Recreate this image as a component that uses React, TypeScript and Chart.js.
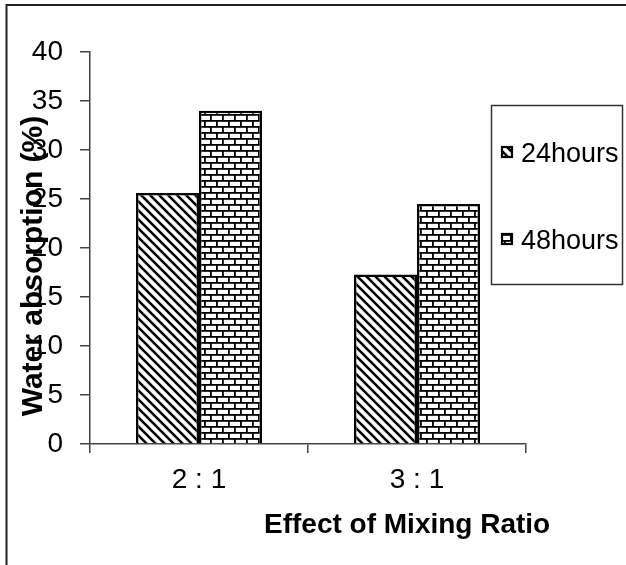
import React, { useEffect, useRef } from 'react';
import { Chart, registerables } from 'chart.js';

Chart.register(...registerables);

const categories = ['2 : 1', '3 : 1'];
const seriesLabels = ['24hours', '48hours'];
const values24 = [25.6, 17.3];
const values48 = [34.0, 24.5];
const yMin = 0;
const yMax = 40;
const yStep = 5;
const xTitle = 'Effect of Mixing Ratio';
const yTitle = 'Water absorption (%)';

const FONT = '"Liberation Sans", Arial, sans-serif';

function makeHatch(): CanvasPattern {
  const n = 9;
  const c = document.createElement('canvas');
  c.width = n;
  c.height = n;
  const g = c.getContext('2d')!;
  g.fillStyle = '#fff';
  g.fillRect(0, 0, n, n);
  g.strokeStyle = '#000';
  g.lineWidth = 2.6;
  g.beginPath();
  g.moveTo(-2, -2);
  g.lineTo(n + 2, n + 2);
  g.moveTo(-2, n - 2);
  g.lineTo(2, n + 2);
  g.moveTo(n - 2, -2);
  g.lineTo(n + 2, 2);
  g.stroke();
  return g.createPattern(c, 'repeat')!;
}

function makeBrick(): CanvasPattern {
  const c = document.createElement('canvas');
  c.width = 12;
  c.height = 12;
  const g = c.getContext('2d')!;
  g.fillStyle = '#fff';
  g.fillRect(0, 0, 12, 12);
  g.fillStyle = '#000';
  g.fillRect(0, 0, 12, 1.8);
  g.fillRect(0, 6, 12, 1.8);
  g.fillRect(0, 0, 1.8, 6);
  g.fillRect(6, 6, 1.8, 6);
  return g.createPattern(c, 'repeat')!;
}

export default function App() {
  const ref = useRef<HTMLCanvasElement | null>(null);

  useEffect(() => {
    const canvas = ref.current;
    if (!canvas) return;
    const hatch = makeHatch();
    const brick = makeBrick();
    const patterns = [hatch, brick];

    const decor = {
      id: 'decor',
      afterDraw(chart: any) {
        const ctx = chart.ctx as CanvasRenderingContext2D;
        ctx.save();
        // page frame
        ctx.strokeStyle = '#222';
        ctx.lineWidth = 2;
        ctx.beginPath();
        ctx.moveTo(6.5, 565);
        ctx.lineTo(6.5, 5);
        ctx.lineTo(626, 5);
        ctx.stroke();

        // legend box
        ctx.strokeStyle = '#333';
        ctx.lineWidth = 1.5;
        ctx.strokeRect(491.5, 105.5, 131, 179);

        const itemY = [152, 239];
        chart.data.datasets.forEach((ds: any, i: number) => {
          const cy = itemY[i];
          ctx.fillStyle = patterns[i];
          ctx.fillRect(501, cy - 6, 12, 12);
          ctx.strokeStyle = '#000';
          ctx.lineWidth = 2.2;
          ctx.strokeRect(502, cy - 5, 10, 10);
          ctx.fillStyle = '#000';
          ctx.font = `27px ${FONT}`;
          ctx.textAlign = 'left';
          ctx.textBaseline = 'alphabetic';
          ctx.fillText(ds.label, 521, cy + 10);
        });

        // x title
        ctx.fillStyle = '#000';
        ctx.font = `bold 28px ${FONT}`;
        ctx.textAlign = 'left';
        ctx.textBaseline = 'alphabetic';
        ctx.fillText(xTitle, 264, 533);

        // y title
        ctx.save();
        ctx.font = `bold 30px ${FONT}`;
        ctx.translate(42, 266);
        ctx.rotate(-Math.PI / 2);
        ctx.textAlign = 'center';
        ctx.textBaseline = 'alphabetic';
        ctx.fillText(yTitle, 0, 0);
        ctx.restore();

        ctx.restore();
      },
    };

    const chart = new Chart(canvas, {
      type: 'bar',
      data: {
        labels: categories,
        datasets: [
          {
            label: seriesLabels[0],
            data: values24,
            backgroundColor: hatch,
            borderColor: '#000',
            borderWidth: 2.5,
            categoryPercentage: 0.578,
            barPercentage: 1,
          },
          {
            label: seriesLabels[1],
            data: values48,
            backgroundColor: brick,
            borderColor: '#000',
            borderWidth: 2.5,
            categoryPercentage: 0.578,
            barPercentage: 1,
          },
        ],
      },
      options: {
        responsive: false,
        animation: false,
        devicePixelRatio: 1,
        layout: { padding: { left: 0, top: 52, right: 100, bottom: 0 } },
        plugins: {
          legend: { display: false },
          tooltip: { enabled: false },
          title: { display: false },
        },
        scales: {
          x: {
            type: 'category',
            offset: true,
            grid: {
              offset: true,
              drawOnChartArea: false,
              drawTicks: true,
              tickLength: 9,
              color: '#444',
              lineWidth: 1.5,
            },
            border: { color: '#444', width: 1.5 },
            ticks: {
              color: '#000',
              font: { family: FONT, size: 28 },
              padding: 10,
              maxRotation: 0,
            },
            afterFit: (s: any) => {
              s.height = 121;
            },
          },
          y: {
            min: yMin,
            max: yMax,
            grid: {
              drawOnChartArea: false,
              drawTicks: true,
              tickLength: 10,
              color: '#444',
              lineWidth: 1.5,
            },
            border: { color: '#444', width: 1.5 },
            ticks: {
              stepSize: yStep,
              color: '#000',
              font: { family: FONT, size: 28 },
              padding: 17,
            },
            afterFit: (s: any) => {
              s.width = 90;
            },
          },
        },
      },
      plugins: [decor],
    });

    return () => chart.destroy();
  }, []);

  return (
    <div style={{ position: 'absolute', left: 0, top: 0, width: 626, height: 565, background: '#fff' }}>
      <canvas ref={ref} width={626} height={565} style={{ display: 'block', width: 626, height: 565 }} />
    </div>
  );
}
